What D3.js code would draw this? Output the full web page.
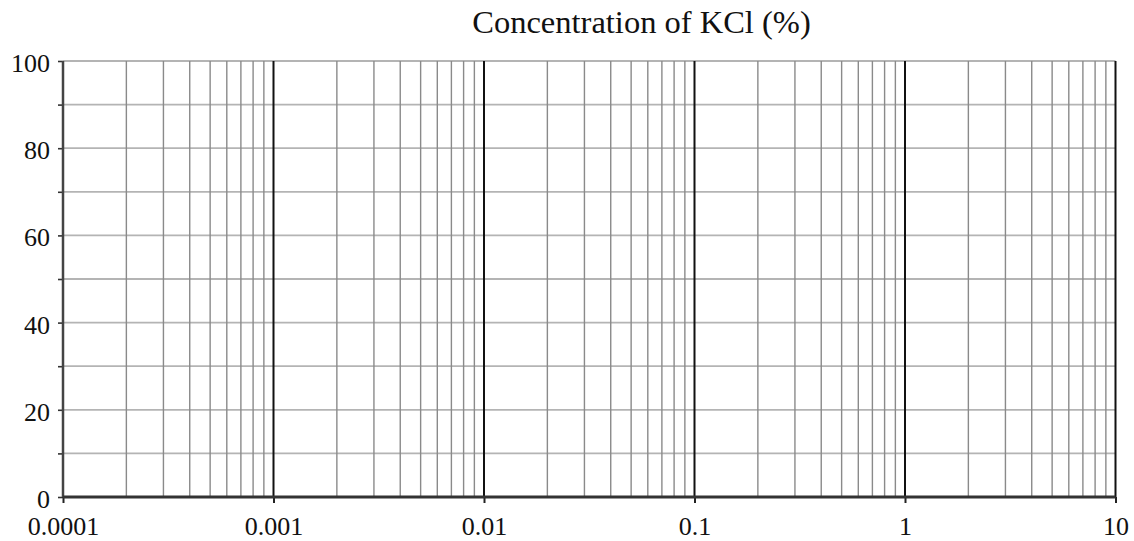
<!DOCTYPE html>
<html>
<head>
<meta charset="utf-8">
<script src="https://cdn.jsdelivr.net/npm/d3@7"></script>
<style>
  body { margin: 0; background: #fff; }
  svg { display: block; }
  text { font-family: "Liberation Serif", "Times New Roman", serif; fill: #111; }
</style>
</head>
<body>
<div id="chart"></div>
<script>
// chart data
const title = "Concentration of KCl (%)";
const xDomain = [0.0001, 10];
const yDomain = [0, 100];
const xMajorTicks = [0.0001, 0.001, 0.01, 0.1, 1, 10];
const xTickLabels = ["0.0001", "0.001", "0.01", "0.1", "1", "10"];
const yLabelTicks = [0, 20, 40, 60, 80, 100];
const yGridTicks = [0, 10, 20, 30, 40, 50, 60, 70, 80, 90, 100];
const minorMultipliers = [2, 3, 4, 5, 6, 7, 8, 9];

// chart set up
const svgWidth = 1134;
const svgHeight = 541;
const margin = { top: 61, right: 18.5, bottom: 44, left: 63 };
const width = svgWidth - margin.left - margin.right;
const height = svgHeight - margin.top - margin.bottom;

const svg = d3.select("#chart")
  .append("svg")
  .attr("width", svgWidth)
  .attr("height", svgHeight);

const chartGroup = svg.append("g")
  .attr("transform", `translate(${margin.left}, ${margin.top})`);

const x = d3.scaleLog().domain(xDomain).range([0, width]);
const y = d3.scaleLinear().domain(yDomain).range([height, 0]);

// minor vertical grid (2..9 in each decade)
const minorTicks = [];
xMajorTicks.slice(0, -1).forEach(d => {
  minorMultipliers.forEach(m => minorTicks.push(d * m));
});

// horizontal grid
chartGroup.selectAll(".hgrid")
  .data(yGridTicks)
  .enter()
  .append("line")
  .attr("class", "hgrid")
  .attr("x1", 0)
  .attr("x2", width)
  .attr("y1", d => y(d))
  .attr("y2", d => y(d))
  .attr("stroke", "#b4b4b4")
  .attr("stroke-width", 1.8);

chartGroup.selectAll(".vminor")
  .data(minorTicks)
  .enter()
  .append("line")
  .attr("class", "vminor")
  .attr("x1", d => x(d))
  .attr("x2", d => x(d))
  .attr("y1", 0)
  .attr("y2", height)
  .attr("stroke", "#8a8a8a")
  .attr("stroke-width", 1.4);

// decade lines
chartGroup.selectAll(".vmajor")
  .data(xMajorTicks.slice(1))
  .enter()
  .append("line")
  .attr("class", "vmajor")
  .attr("x1", d => x(d))
  .attr("x2", d => x(d))
  .attr("y1", 0)
  .attr("y2", height)
  .attr("stroke", "#111")
  .attr("stroke-width", 2);

// left axis
const leftAxis = d3.axisLeft(y)
  .tickValues(yGridTicks)
  .tickSize(5)
  .tickFormat(d => yLabelTicks.includes(d) ? d : "");

const yAxis = chartGroup.append("g").call(leftAxis);
yAxis.select(".domain").remove();
yAxis.selectAll(".tick line").attr("stroke", "#333").attr("stroke-width", 1.6);
yAxis.selectAll(".tick text")
  .attr("x", -13)
  .attr("dy", "0.4em")
  .style("font-size", "26px")
  .style("font-family", "Liberation Serif, serif")
  .attr("fill", "#111");
yAxis.append("line")
  .attr("x1", 0).attr("x2", 0)
  .attr("y1", 0).attr("y2", height)
  .attr("stroke", "#444")
  .attr("stroke-width", 2.5);

// bottom axis
const bottomAxis = d3.axisBottom(x)
  .tickValues(xMajorTicks)
  .tickSize(6)
  .tickFormat((d, i) => xTickLabels[i]);

const xAxis = chartGroup.append("g")
  .attr("transform", `translate(0, ${height})`)
  .call(bottomAxis);
xAxis.select(".domain").remove();
xAxis.selectAll(".tick line").attr("stroke", "#222").attr("stroke-width", 2);
xAxis.selectAll(".tick text")
  .attr("y", 19.5)
  .attr("dy", "0.71em")
  .style("font-size", "26px")
  .style("font-family", "Liberation Serif, serif")
  .attr("fill", "#111");
xAxis.append("line")
  .attr("x1", 0).attr("x2", width)
  .attr("y1", 0).attr("y2", 0)
  .attr("stroke", "#333")
  .attr("stroke-width", 3);

// title
svg.append("text")
  .attr("x", 641.5)
  .attr("y", 33)
  .attr("text-anchor", "middle")
  .style("font-size", "32.5px")
  .text(title);
</script>
</body>
</html>
